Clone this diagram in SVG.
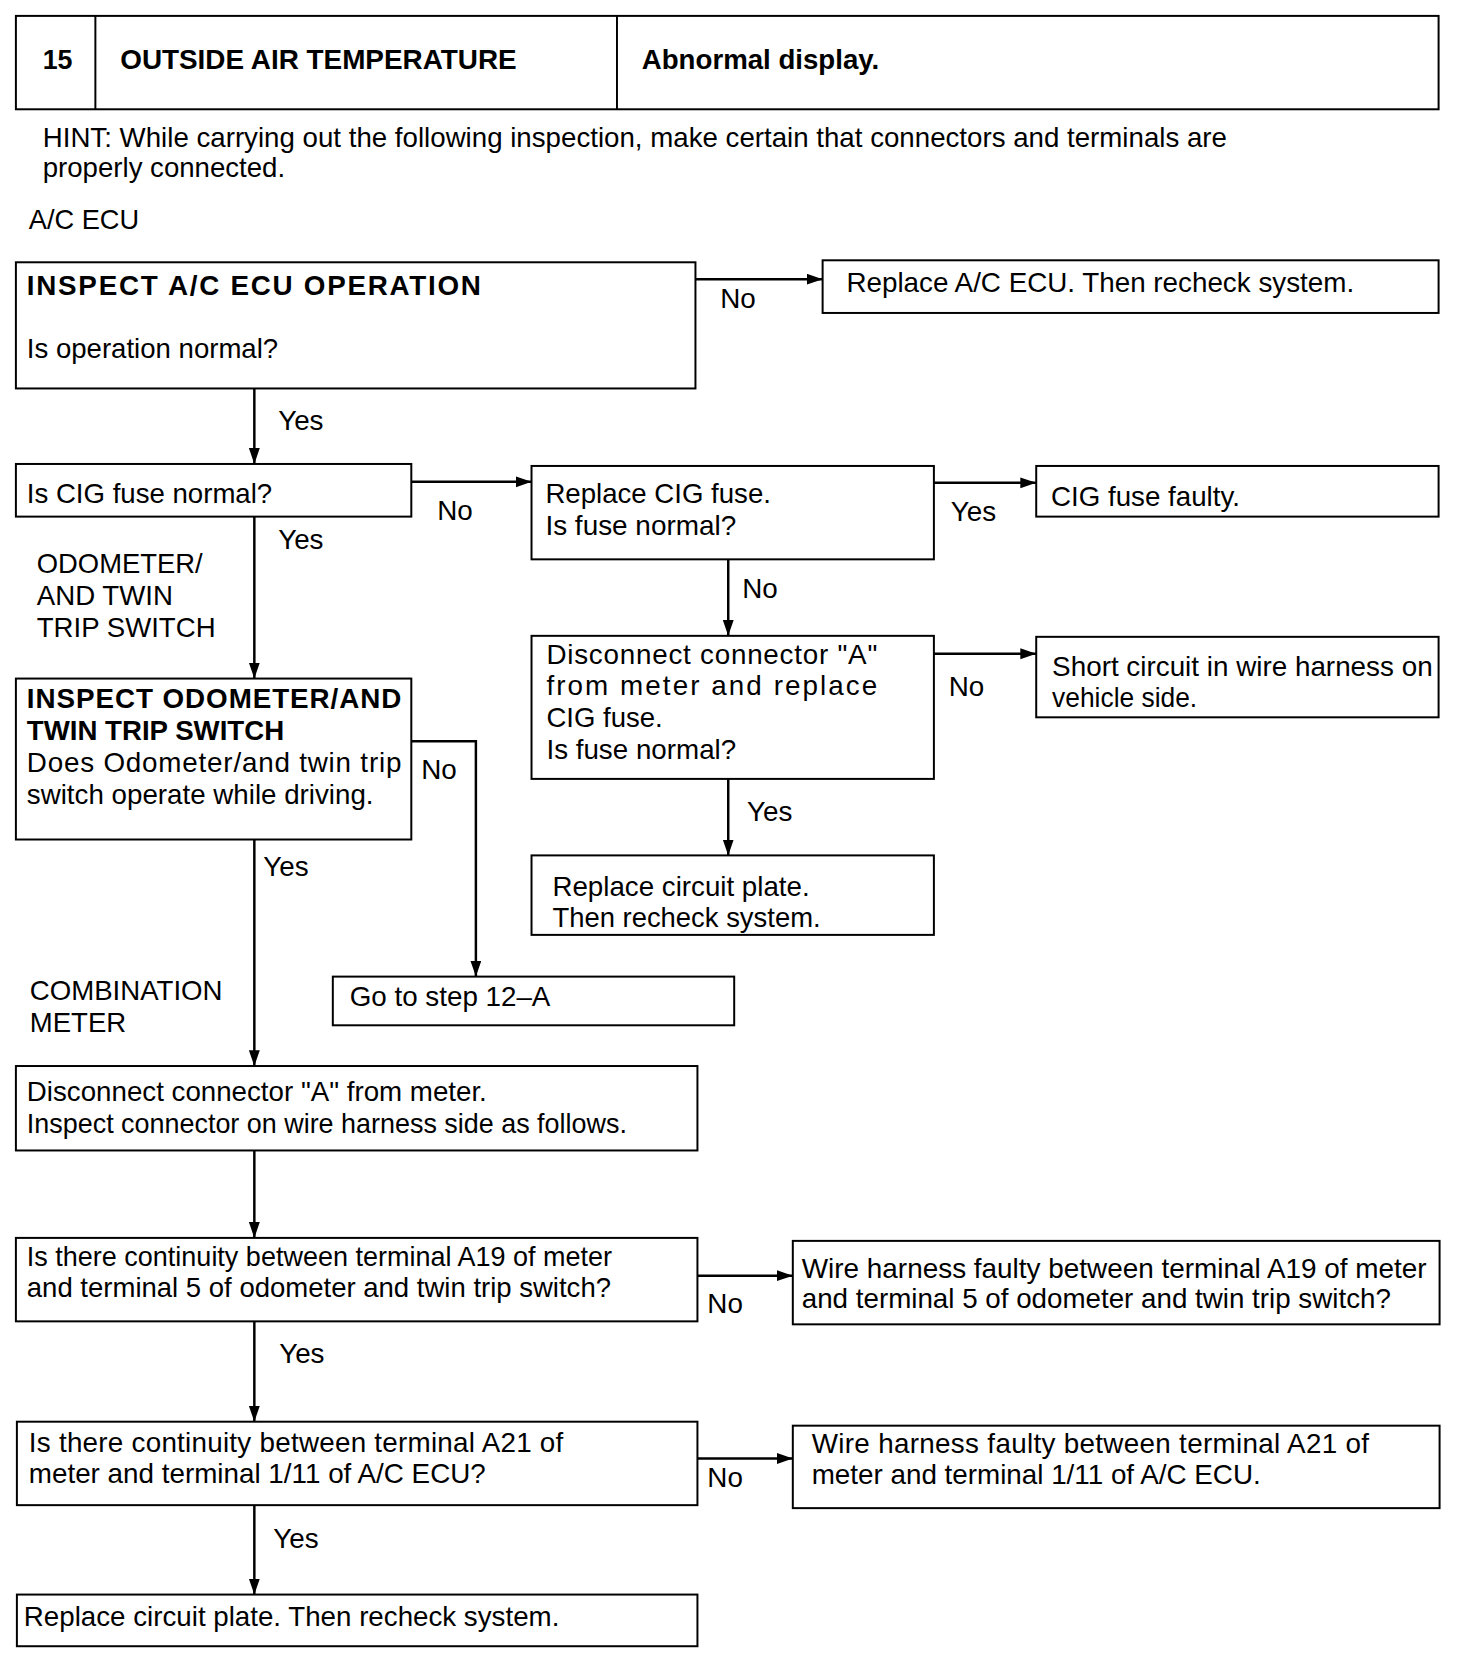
<svg xmlns="http://www.w3.org/2000/svg" width="1472" height="1662" viewBox="0 0 1472 1662">
<style>
text{font-family:"Liberation Sans",Arial,sans-serif;font-size:28px;fill:#000}
.b{font-weight:bold}
.box{fill:#fff;stroke:#000;stroke-width:2}
.ln{fill:none;stroke:#000;stroke-width:2.5}
</style>
<defs>
<marker id="ar" markerUnits="userSpaceOnUse" markerWidth="18" markerHeight="12" refX="16" refY="5.5" orient="auto">
<path d="M0,0 L16,5.5 L0,11 z" fill="#000"/>
</marker>
</defs>
<rect width="1472" height="1662" fill="#fff"/>
<g transform="scale(0.9935)">
<g id="header">
<rect class="box" x="16" y="16" width="1432" height="94"/>
<line x1="96" y1="16" x2="96" y2="110" stroke="#000" stroke-width="2"/>
<line x1="621" y1="16" x2="621" y2="110" stroke="#000" stroke-width="2"/>
<text class="b" x="43" y="69" textLength="30" lengthAdjust="spacingAndGlyphs">15</text>
<text class="b" x="121" y="69" textLength="399" lengthAdjust="spacingAndGlyphs">OUTSIDE AIR TEMPERATURE</text>
<text class="b" x="646" y="69" textLength="239" lengthAdjust="spacingAndGlyphs">Abnormal display.</text>
</g>

<g id="hint">
<text x="43" y="148" textLength="1192" lengthAdjust="spacingAndGlyphs">HINT: While carrying out the following inspection, make certain that connectors and terminals are</text>
<text x="43" y="178" textLength="244" lengthAdjust="spacingAndGlyphs">properly connected.</text>
<text x="29" y="230" textLength="111" lengthAdjust="spacingAndGlyphs">A/C ECU</text>
<text x="37" y="577" textLength="167" lengthAdjust="spacingAndGlyphs">ODOMETER/</text>
<text x="37" y="609" textLength="137" lengthAdjust="spacingAndGlyphs">AND TWIN</text>
<text x="37" y="641" textLength="180" lengthAdjust="spacingAndGlyphs">TRIP SWITCH</text>
<text x="30" y="1007" textLength="194" lengthAdjust="spacingAndGlyphs">COMBINATION</text>
<text x="30" y="1039" textLength="97" lengthAdjust="spacingAndGlyphs">METER</text>
</g>

<g id="n1">
<rect class="box" x="16" y="264" width="684" height="127"/>
<text class="b" x="27" y="297" textLength="457" lengthAdjust="spacing">INSPECT A/C ECU OPERATION</text>
<text x="27" y="360" textLength="253" lengthAdjust="spacingAndGlyphs">Is operation normal?</text>
</g>
<g id="n2">
<rect class="box" x="828" y="262" width="620" height="53"/>
<text x="852" y="294" textLength="511" lengthAdjust="spacingAndGlyphs">Replace A/C ECU. Then recheck system.</text>
</g>
<g id="n3">
<rect class="box" x="16" y="467" width="398" height="53"/>
<text x="27" y="506" textLength="247" lengthAdjust="spacingAndGlyphs">Is CIG fuse normal?</text>
</g>
<g id="n4">
<rect class="box" x="535" y="469" width="405" height="94"/>
<text x="549" y="506" textLength="227" lengthAdjust="spacingAndGlyphs">Replace CIG fuse.</text>
<text x="549" y="538" textLength="192" lengthAdjust="spacingAndGlyphs">Is fuse normal?</text>
</g>
<g id="n5">
<rect class="box" x="1043" y="469" width="405" height="51"/>
<text x="1058" y="509" textLength="190" lengthAdjust="spacingAndGlyphs">CIG fuse faulty.</text>
</g>
<g id="n6">
<rect class="box" x="535" y="640" width="405" height="144"/>
<text x="550" y="668" textLength="333" lengthAdjust="spacing">Disconnect connector "A"</text>
<text x="550" y="700" textLength="333" lengthAdjust="spacing">from meter and replace</text>
<text x="550" y="732" textLength="117" lengthAdjust="spacingAndGlyphs">CIG fuse.</text>
<text x="550" y="764" textLength="191" lengthAdjust="spacingAndGlyphs">Is fuse normal?</text>
</g>
<g id="n7">
<rect class="box" x="1043" y="641" width="405" height="81"/>
<text x="1059" y="680" textLength="383" lengthAdjust="spacingAndGlyphs">Short circuit in wire harness on</text>
<text x="1059" y="712" textLength="146" lengthAdjust="spacingAndGlyphs">vehicle side.</text>
</g>
<g id="n8">
<rect class="box" x="535" y="861" width="405" height="80"/>
<text x="556" y="902" textLength="259" lengthAdjust="spacingAndGlyphs">Replace circuit plate.</text>
<text x="556" y="933" textLength="270" lengthAdjust="spacingAndGlyphs">Then recheck system.</text>
</g>
<g id="n9">
<rect class="box" x="16" y="683" width="398" height="162"/>
<text class="b" x="27" y="713" textLength="377" lengthAdjust="spacing">INSPECT ODOMETER/AND</text>
<text class="b" x="27" y="745" textLength="259" lengthAdjust="spacingAndGlyphs">TWIN TRIP SWITCH</text>
<text x="27" y="777" textLength="377" lengthAdjust="spacing">Does Odometer/and twin trip</text>
<text x="27" y="809" textLength="349" lengthAdjust="spacingAndGlyphs">switch operate while driving.</text>
</g>
<g id="n10">
<rect class="box" x="335" y="983" width="404" height="49"/>
<text x="352" y="1013" textLength="202" lengthAdjust="spacingAndGlyphs">Go to step 12–A</text>
</g>
<g id="n11">
<rect class="box" x="16" y="1073" width="686" height="85"/>
<text x="27" y="1108" textLength="463" lengthAdjust="spacingAndGlyphs">Disconnect connector "A" from meter.</text>
<text x="27" y="1140" textLength="604" lengthAdjust="spacingAndGlyphs">Inspect connector on wire harness side as follows.</text>
</g>
<g id="n12">
<rect class="box" x="16" y="1246" width="686" height="84"/>
<text x="27" y="1274" textLength="589" lengthAdjust="spacingAndGlyphs">Is there continuity between terminal A19 of meter</text>
<text x="27" y="1305" textLength="588" lengthAdjust="spacingAndGlyphs">and terminal 5 of odometer and twin trip switch?</text>
</g>
<g id="n13">
<rect class="box" x="798" y="1249" width="651" height="84"/>
<text x="807" y="1286" textLength="629" lengthAdjust="spacingAndGlyphs">Wire harness faulty between terminal A19 of meter</text>
<text x="807" y="1317" textLength="593" lengthAdjust="spacingAndGlyphs">and terminal 5 of odometer and twin trip switch?</text>
</g>
<g id="n14">
<rect class="box" x="17" y="1431" width="685" height="84"/>
<text x="29" y="1462" textLength="538" lengthAdjust="spacing">Is there continuity between terminal A21 of</text>
<text x="29" y="1493" textLength="460" lengthAdjust="spacingAndGlyphs">meter and terminal 1/11 of A/C ECU?</text>
</g>
<g id="n15">
<rect class="box" x="798" y="1435" width="651" height="83"/>
<text x="817" y="1463" textLength="561" lengthAdjust="spacing">Wire harness faulty between terminal A21 of</text>
<text x="817" y="1494" textLength="452" lengthAdjust="spacingAndGlyphs">meter and terminal 1/11 of A/C ECU.</text>
</g>
<g id="n16">
<rect class="box" x="17" y="1605" width="685" height="52"/>
<text x="24" y="1637" textLength="539" lengthAdjust="spacingAndGlyphs">Replace circuit plate. Then recheck system.</text>
</g>

<g id="connectors">
<line class="ln" x1="700" y1="281" x2="828" y2="281" marker-end="url(#ar)"/>
<line class="ln" x1="256" y1="391" x2="256" y2="467" marker-end="url(#ar)"/>
<line class="ln" x1="414" y1="485" x2="535" y2="485" marker-end="url(#ar)"/>
<line class="ln" x1="940" y1="486" x2="1043" y2="486" marker-end="url(#ar)"/>
<line class="ln" x1="733" y1="563" x2="733" y2="640" marker-end="url(#ar)"/>
<line class="ln" x1="940" y1="658" x2="1043" y2="658" marker-end="url(#ar)"/>
<line class="ln" x1="733" y1="784" x2="733" y2="861" marker-end="url(#ar)"/>
<line class="ln" x1="256" y1="520" x2="256" y2="683" marker-end="url(#ar)"/>
<polyline class="ln" points="414,746 479,746 479,983" marker-end="url(#ar)"/>
<line class="ln" x1="256" y1="845" x2="256" y2="1073" marker-end="url(#ar)"/>
<line class="ln" x1="256" y1="1158" x2="256" y2="1246" marker-end="url(#ar)"/>
<line class="ln" x1="702" y1="1284" x2="798" y2="1284" marker-end="url(#ar)"/>
<line class="ln" x1="256" y1="1330" x2="256" y2="1431" marker-end="url(#ar)"/>
<line class="ln" x1="702" y1="1468" x2="798" y2="1468" marker-end="url(#ar)"/>
<line class="ln" x1="256" y1="1515" x2="256" y2="1605" marker-end="url(#ar)"/>
<text x="725" y="310">No</text>
<text x="280" y="433">Yes</text>
<text x="440" y="523">No</text>
<text x="957" y="524">Yes</text>
<text x="747" y="602">No</text>
<text x="955" y="701">No</text>
<text x="752" y="826">Yes</text>
<text x="280" y="553">Yes</text>
<text x="424" y="784">No</text>
<text x="265" y="882">Yes</text>
<text x="712" y="1322">No</text>
<text x="281" y="1372">Yes</text>
<text x="712" y="1497">No</text>
<text x="275" y="1558">Yes</text>
</g>
</g>
</svg>
